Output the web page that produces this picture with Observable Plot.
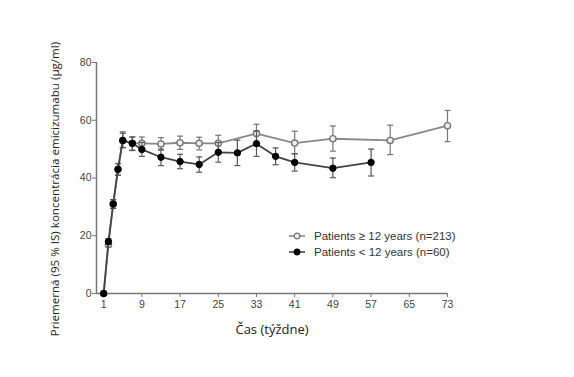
<!DOCTYPE html>
<html><head><meta charset="utf-8">
<script src="https://cdn.jsdelivr.net/npm/d3@7"></script>
<script src="https://cdn.jsdelivr.net/npm/@observablehq/plot@0.6"></script>
<style>
body{margin:0;background:#fff;}
#wrap{position:relative;width:574px;height:377px;}
.leg{position:absolute;left:287px;font:11.5px "Liberation Sans",Arial,sans-serif;color:#333;display:flex;align-items:center;white-space:nowrap;}
.leg svg{margin-right:7px;}
</style></head>
<body><div id="wrap"></div>
<script>
const weeksOpen = [1,2,3,4,5,7,9,13,17,21,25,33,41,49,61,73];
const meanOpen  = [0,17,31,43,53,52,52,51.8,52.2,52,52,55.4,52.1,53.6,53.0,58.1];
const loOpen    = [0,16,29.5,41,50.5,49.7,49.8,49.6,49.9,49.7,49.2,52.2,48.4,49.3,48.1,52.6];
const hiOpen    = [0,18,32.5,45,56,54.2,54.2,54,54.5,54.1,54.8,58.6,56.2,58,58.3,63.4];

const weeksClosed = [1,2,3,4,5,7,9,13,17,21,25,29,33,37,41,49,57];
const meanClosed  = [0,18,31,43,53,52,49.9,47.2,45.7,44.7,48.9,48.7,51.9,47.5,45.4,43.4,45.4];
const loClosed    = [0,17,29.5,41,50.5,49.5,47.5,44.3,43.2,42,45.5,44.3,47.5,44.6,42.4,40.1,40.7];
const hiClosed    = [0,19,32.5,45,55.5,54.2,52.3,50,48.2,47.3,52.3,53.1,56.3,50.4,48.4,46.9,50];

const xTicks = [1,9,17,25,33,41,49,57,65,73];
const yTicks = [0,20,40,60,80];
const seriesNames = ["Patients \u2265 12 years (n=213)", "Patients < 12 years (n=60)"];
const yTitle = "Priemerná (95 % IS) koncentrácia emicizumabu (µg/ml)";
const xTitle = "Čas (týždne)";

const open = weeksOpen.map((w,i)=>({week:w, mean:meanOpen[i], lo:loOpen[i], hi:hiOpen[i]}));
const closed = weeksClosed.map((w,i)=>({week:w, mean:meanClosed[i], lo:loClosed[i], hi:hiClosed[i]}));

const cap = {draw(ctx){ ctx.moveTo(-3,0); ctx.lineTo(3,0); }};
const errMarks = (data, color) => [
  Plot.ruleX(data.filter(d=>d.hi>d.lo), {x:"week", y1:"lo", y2:"hi", stroke:color, strokeWidth:1.2}),
  Plot.dot(data.filter(d=>d.hi>d.lo), {x:"week", y:"lo", symbol:cap, stroke:color, strokeWidth:1.2, fill:"none"}),
  Plot.dot(data.filter(d=>d.hi>d.lo), {x:"week", y:"hi", symbol:cap, stroke:color, strokeWidth:1.2, fill:"none"})
];

const chart = Plot.plot({
  width:574, height:377,
  marginLeft:96, marginRight:127, marginTop:62, marginBottom:84,
  style:{background:"#fff", fontFamily:"'Liberation Sans', Arial, sans-serif"},
  x:{domain:[-0.5,73]},
  y:{domain:[0,80]},
  marks:[
    Plot.axisX({ticks:xTicks, tickSize:4, tickPadding:3, fontSize:10.5, color:"#444", stroke:"#777", label:null}),
    Plot.axisY({ticks:yTicks, tickSize:4, tickPadding:1, fontSize:10.5, color:"#444", stroke:"#777", label:null}),
    Plot.ruleY([0], {stroke:"#777", strokeWidth:1.5}),
    Plot.ruleX([-0.5], {stroke:"#777", strokeWidth:1.5}),
    ...errMarks(open, "#777"),
    Plot.line(open, {x:"week", y:"mean", stroke:"#888", strokeWidth:1.8}),
    Plot.dot(open, {x:"week", y:"mean", r:3.1, stroke:"#777", strokeWidth:1.4, fill:"#eee"}),
    ...errMarks(closed, "#555"),
    Plot.line(closed, {x:"week", y:"mean", stroke:"#444", strokeWidth:1.8}),
    Plot.dot(closed, {x:"week", y:"mean", r:3.2, fill:"#000", stroke:"#000", strokeWidth:1}),
    Plot.text([yTitle], {frameAnchor:"left", textAnchor:"middle", dx:-41, dy:11, rotate:-90, fontSize:11.6, fontFamily:"'Open Sans', sans-serif", fill:"#222"}),
    Plot.text([xTitle], {frameAnchor:"bottom", dx:0, dy:40, fontSize:13, fontFamily:"'Open Sans', sans-serif", fill:"#222"})
  ]
});
const wrap = document.getElementById("wrap");
wrap.appendChild(chart);

const legendItems = [
  {name:seriesNames[0], top:230, line:"#888", fill:"#eee", stroke:"#777"},
  {name:seriesNames[1], top:246, line:"#444", fill:"#000", stroke:"#000"}
];
for (const it of legendItems) {
  const div = document.createElement("div");
  div.className = "leg";
  div.style.top = it.top + "px";
  div.innerHTML = `<svg width="20" height="12"><line x1="2" x2="18" y1="6" y2="6" stroke="${it.line}" stroke-width="1.6"/><circle cx="10" cy="6" r="2.8" fill="${it.fill}" stroke="${it.stroke}" stroke-width="1.3"/></svg><span>${it.name}</span>`;
  wrap.appendChild(div);
}
</script></body></html>
